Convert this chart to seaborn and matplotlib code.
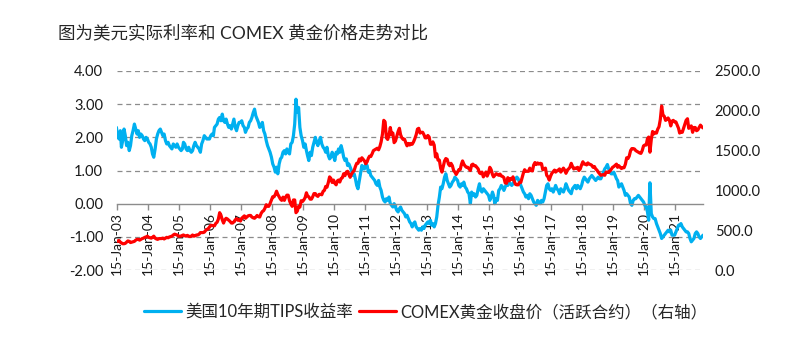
import numpy as np
import pandas as pd
import matplotlib
matplotlib.use("Agg")
import matplotlib.pyplot as plt
import matplotlib.dates as mdates
from matplotlib.ticker import FuncFormatter, FixedLocator
import seaborn as sns

# ---------------- data (twice a month: 8th and 23rd) ----------------
tips_2003 = [2.30, 2.05, 1.95, 2.20, 1.70, 1.90, 2.25, 2.05, 1.75, 1.85, 1.60, 1.75,
             2.05, 2.20, 2.40, 2.25, 2.10, 2.20, 2.00, 2.10, 2.05, 1.95, 1.90, 2.00]
tips_2004 = [1.95, 1.85, 1.80, 1.70, 1.50, 1.40, 1.65, 1.95, 2.10, 2.20, 2.25, 2.15,
             2.05, 2.10, 1.90, 1.80, 1.85, 1.75, 1.70, 1.65, 1.80, 1.75, 1.70, 1.80]
tips_2005 = [1.70, 1.65, 1.60, 1.65, 1.85, 1.80, 1.65, 1.60, 1.70, 1.60, 1.55, 1.60,
             1.75, 1.85, 1.75, 1.70, 1.65, 1.55, 1.80, 1.90, 2.05, 2.00, 1.95, 1.95]
tips_2006 = [1.95, 2.05, 2.10, 2.05, 2.30, 2.35, 2.40, 2.55, 2.60, 2.50, 2.70, 2.50,
             2.45, 2.55, 2.40, 2.30, 2.35, 2.25, 2.40, 2.55, 2.30, 2.20, 2.35, 2.45]
tips_2007 = [2.45, 2.50, 2.35, 2.30, 2.15, 2.25, 2.30, 2.45, 2.50, 2.60, 2.75, 2.85,
             2.65, 2.55, 2.45, 2.30, 2.35, 2.45, 2.20, 2.10, 1.90, 1.75, 1.65, 1.55]
tips_2008 = [1.40, 1.20, 1.10, 0.95, 1.10, 0.90, 1.20, 1.35, 1.40, 1.55, 1.60, 1.50,
             1.65, 1.55, 1.50, 1.80, 1.85, 2.05, 2.40, 3.15, 2.75, 2.90, 2.30, 2.05]
tips_2009 = [1.90, 1.70, 1.80, 1.60, 1.45, 1.30, 1.55, 1.45, 1.70, 1.85, 2.00, 1.85,
             1.75, 1.90, 2.00, 1.80, 1.70, 1.65, 1.55, 1.70, 1.45, 1.35, 1.40, 1.55]
tips_2010 = [1.45, 1.30, 1.55, 1.50, 1.65, 1.55, 1.75, 1.60, 1.40, 1.30, 1.35, 1.15,
             1.20, 1.10, 1.00, 0.85, 0.90, 0.75, 0.55, 0.45, 0.70, 0.95, 1.15, 1.05]
tips_2011 = [1.05, 1.20, 1.15, 0.95, 1.00, 0.85, 0.80, 0.75, 0.70, 0.60, 0.55, 0.70,
             0.50, 0.40, 0.20, 0.10, 0.05, 0.15, 0.10, 0.20, 0.00, -0.05, -0.10, 0.00]
tips_2012 = [-0.10, -0.20, -0.25, -0.15, -0.10, -0.20, -0.25, -0.30, -0.40, -0.35, -0.45, -0.55,
             -0.60, -0.70, -0.60, -0.55, -0.70, -0.75, -0.80, -0.75, -0.80, -0.70, -0.75, -0.65]
tips_2013 = [-0.60, -0.55, -0.60, -0.50, -0.65, -0.60, -0.70, -0.60, -0.40, -0.05, 0.20, 0.50,
             0.45, 0.60, 0.80, 0.90, 0.70, 0.60, 0.50, 0.55, 0.65, 0.70, 0.80, 0.75]
tips_2014 = [0.70, 0.55, 0.50, 0.60, 0.55, 0.65, 0.50, 0.45, 0.35, 0.30, 0.00, 0.35,
             0.25, 0.30, 0.20, 0.25, 0.45, 0.60, 0.40, 0.35, 0.45, 0.40, 0.35, 0.30]
tips_2015 = [0.25, 0.10, 0.20, 0.35, 0.25, 0.00, 0.15, 0.10, 0.40, 0.45, 0.55, 0.50,
             0.40, 0.50, 0.60, 0.55, 0.65, 0.60, 0.55, 0.60, 0.70, 0.75, 0.80, 0.75]
tips_2016 = [0.65, 0.55, 0.45, 0.35, 0.30, 0.20, 0.25, 0.15, 0.30, 0.25, 0.15, 0.05,
             0.00, -0.05, 0.10, 0.05, 0.00, 0.10, 0.05, 0.15, 0.35, 0.55, 0.60, 0.45]
tips_2017 = [0.40, 0.45, 0.35, 0.45, 0.55, 0.45, 0.40, 0.30, 0.45, 0.40, 0.35, 0.45,
             0.60, 0.50, 0.40, 0.35, 0.30, 0.45, 0.50, 0.55, 0.45, 0.55, 0.50, 0.45]
tips_2018 = [0.55, 0.70, 0.80, 0.75, 0.70, 0.65, 0.75, 0.80, 0.85, 0.80, 0.75, 0.70,
             0.75, 0.80, 0.75, 0.75, 0.85, 0.95, 1.05, 1.10, 1.18, 1.05, 0.95, 0.90]
tips_2019 = [0.90, 0.95, 0.85, 0.75, 0.70, 0.50, 0.55, 0.60, 0.50, 0.40, 0.25, 0.30,
             0.25, 0.20, 0.00, -0.05, 0.10, 0.15, 0.15, 0.20, 0.25, 0.20, 0.15, 0.10]
tips_2020 = [0.05, -0.05, -0.10, -0.25, -0.50, 0.63, -0.30, -0.40, -0.45, -0.45, -0.60, -0.70,
             -0.80, -0.90, -1.05, -1.00, -0.95, -0.90, -0.85, -0.80, -0.85, -0.80, -0.95, -0.95]
tips_2021 = [-0.95, -0.85, -0.75, -0.65, -0.65, -0.60, -0.70, -0.75, -0.80, -0.85, -0.85, -0.90,
             -1.05, -1.15, -1.10, -1.05, -0.90, -0.85, -0.90, -1.00, -1.05, -1.00, -0.95]

gold_2003 = [355, 365, 370, 350, 340, 330, 330, 335, 350, 365, 360, 345,
             350, 355, 360, 375, 385, 385, 375, 385, 395, 400, 410, 415]
gold_2004 = [425, 410, 405, 400, 410, 425, 400, 390, 385, 395, 395, 395,
             400, 390, 400, 410, 405, 415, 420, 425, 440, 450, 445, 440]
gold_2005 = [425, 425, 425, 435, 440, 430, 425, 435, 425, 420, 425, 440,
             425, 430, 440, 440, 450, 470, 470, 470, 475, 495, 510, 515]
gold_2006 = [540, 560, 560, 555, 555, 585, 600, 640, 720, 690, 630, 590,
             630, 650, 640, 625, 610, 590, 590, 605, 630, 645, 625, 635]
gold_2007 = [615, 650, 665, 680, 650, 665, 680, 685, 685, 665, 655, 650,
             665, 685, 670, 665, 710, 735, 745, 775, 820, 800, 800, 835]
gold_2008 = [880, 920, 920, 950, 990, 950, 920, 890, 875, 915, 875, 915,
             940, 940, 870, 830, 800, 880, 880, 720, 740, 800, 790, 870]
gold_2009 = [860, 880, 910, 970, 930, 920, 890, 890, 920, 960, 960, 935,
             925, 950, 950, 945, 990, 1000, 1050, 1040, 1100, 1170, 1150, 1100]
gold_2010 = [1130, 1090, 1070, 1120, 1130, 1105, 1150, 1160, 1210, 1185, 1230, 1240,
             1200, 1165, 1205, 1230, 1250, 1300, 1340, 1340, 1395, 1370, 1410, 1390]
gold_2011 = [1370, 1335, 1360, 1405, 1430, 1425, 1460, 1500, 1510, 1520, 1530, 1510,
             1550, 1610, 1710, 1880, 1860, 1660, 1640, 1690, 1790, 1700, 1720, 1600]
gold_2012 = [1620, 1680, 1740, 1780, 1700, 1660, 1640, 1645, 1600, 1560, 1590, 1570,
             1590, 1580, 1610, 1650, 1700, 1770, 1780, 1720, 1730, 1730, 1700, 1660]
gold_2013 = [1660, 1690, 1670, 1580, 1580, 1610, 1570, 1420, 1460, 1380, 1380, 1280,
             1230, 1300, 1370, 1400, 1390, 1330, 1310, 1340, 1310, 1250, 1230, 1200]
gold_2014 = [1230, 1260, 1260, 1330, 1370, 1330, 1305, 1290, 1290, 1270, 1250, 1320,
             1330, 1310, 1310, 1290, 1270, 1220, 1210, 1230, 1170, 1200, 1230, 1180]
gold_2015 = [1220, 1290, 1260, 1200, 1170, 1190, 1210, 1200, 1190, 1205, 1180, 1175,
             1160, 1095, 1090, 1160, 1120, 1150, 1140, 1170, 1110, 1075, 1070, 1070]
gold_2016 = [1100, 1100, 1160, 1220, 1260, 1240, 1240, 1240, 1280, 1250, 1245, 1320,
             1350, 1325, 1345, 1330, 1340, 1335, 1260, 1270, 1280, 1190, 1170, 1130]
gold_2017 = [1180, 1215, 1235, 1255, 1230, 1245, 1255, 1270, 1230, 1255, 1280, 1255,
             1215, 1255, 1270, 1290, 1340, 1300, 1270, 1280, 1275, 1290, 1250, 1270]
gold_2018 = [1320, 1360, 1330, 1330, 1320, 1345, 1330, 1325, 1315, 1290, 1300, 1270,
             1255, 1230, 1210, 1190, 1195, 1200, 1190, 1230, 1230, 1225, 1245, 1265]
gold_2019 = [1290, 1300, 1315, 1330, 1290, 1310, 1290, 1275, 1285, 1285, 1330, 1410,
             1400, 1430, 1500, 1525, 1525, 1520, 1500, 1490, 1480, 1470, 1465, 1500]
gold_2020 = [1560, 1570, 1570, 1650, 1670, 1480, 1640, 1740, 1710, 1730, 1720, 1770,
             1800, 1890, 2060, 1950, 1930, 1880, 1890, 1910, 1880, 1810, 1870, 1880]
gold_2021 = [1860, 1860, 1820, 1780, 1720, 1740, 1730, 1780, 1830, 1880, 1900, 1780,
             1800, 1810, 1730, 1790, 1790, 1750, 1760, 1790, 1820, 1800, 1785]

tips = sum([tips_2003, tips_2004, tips_2005, tips_2006, tips_2007, tips_2008, tips_2009,
            tips_2010, tips_2011, tips_2012, tips_2013, tips_2014, tips_2015, tips_2016,
            tips_2017, tips_2018, tips_2019, tips_2020, tips_2021], [])
gold = sum([gold_2003, gold_2004, gold_2005, gold_2006, gold_2007, gold_2008, gold_2009,
            gold_2010, gold_2011, gold_2012, gold_2013, gold_2014, gold_2015, gold_2016,
            gold_2017, gold_2018, gold_2019, gold_2020, gold_2021], [])

months = pd.date_range("2003-01-01", periods=(len(tips) + 1) // 2, freq="MS")
dates = sorted(list(months + pd.Timedelta(days=7)) + list(months + pd.Timedelta(days=22)))[:len(tips)]
dates = pd.DatetimeIndex(dates)
tick_years = list(range(2003, 2022))

title = "图为美元实际利率和 COMEX 黄金价格走势对比"
label_tips = "美国10年期TIPS收益率"
label_gold = "COMEX黄金收盘价（活跃合约）（右轴）"
left_ticks = [-2, -1, 0, 1, 2, 3, 4]
right_ticks = [0, 500, 1000, 1500, 2000, 2500]

df = pd.DataFrame({"date": dates, "tips": tips, "gold": gold})

# ---------------- style ----------------
sns.set_theme(style="white")
fam = ["Lato", "Noto Sans CJK SC", "DejaVu Sans"]
plt.rcParams["font.family"] = fam
plt.rcParams["axes.unicode_minus"] = False

BLUE = "#00B0F0"
RED = "#FF0000"
GRID = "#8c8c8c"

fig = plt.figure(figsize=(8.05, 3.5), dpi=100)
ax = fig.add_axes([117 / 805, 1 - 270 / 350, (703 - 117) / 805, (270 - 71) / 350])
ax2 = ax.twinx()

sns.lineplot(data=df, x="date", y="tips", ax=ax, color=BLUE, linewidth=2.3,
             label=label_tips, legend=False)
sns.lineplot(data=df, x="date", y="gold", ax=ax2, color=RED, linewidth=2.3,
             label=label_gold, legend=False)

ax.set_xlim(pd.Timestamp("2003-01-15"), dates[-1])
ax.set_ylim(-2, 4)
ax2.set_ylim(0, 2500)

ax.yaxis.set_major_locator(FixedLocator(left_ticks))
ax.yaxis.set_major_formatter(FuncFormatter(lambda v, p: f"{v:.2f}"))
ax2.yaxis.set_major_locator(FixedLocator(right_ticks))
ax2.yaxis.set_major_formatter(FuncFormatter(lambda v, p: f"{v:.1f}"))

xt = [pd.Timestamp(f"{y}-01-15") for y in tick_years]
ax.set_xticks(xt)
ax.xaxis.set_major_formatter(mdates.DateFormatter("%d-%b-%y"))

for a in (ax, ax2):
    for s in ("top", "left", "right"):
        a.spines[s].set_visible(False)
    a.set_xlabel("")
    a.set_ylabel("")
ax2.spines["bottom"].set_visible(False)
ax.spines["bottom"].set_position(("data", 0))
ax.spines["bottom"].set_color(GRID)
ax.spines["bottom"].set_linewidth(1.0)

for v in left_ticks:
    if v != 0:
        ax.axhline(v, color=GRID, lw=0.9, ls=(0, (4, 3)), zorder=0)

ax.tick_params(axis="x", direction="out", length=4, width=1, color=GRID,
               labelsize=10, labelrotation=90, pad=2, bottom=True)
ax.tick_params(axis="y", length=0, labelsize=10.5, pad=10, labelcolor="#1a1a1a")
ax2.tick_params(axis="y", length=0, labelsize=10.5, pad=8.5, labelcolor="#1a1a1a")
for lab in ax.get_xticklabels():
    lab.set_color("#1a1a1a")
    lab.set_va("top")

fig.text(58 / 805, 1 - 33 / 350, title, ha="left", va="center", fontsize=12.6,
         color="#262626", family=["Lato", "Noto Sans CJK SC"])

h1, l1 = ax.get_legend_handles_labels()
h2, l2 = ax2.get_legend_handles_labels()
fig.legend(h1 + h2, l1 + l2, loc="center", bbox_to_anchor=(0.529, 1 - 312 / 350),
           ncol=2, frameon=False, handlelength=2.25, handletextpad=0.25,
           columnspacing=0.35, prop={"family": fam, "size": 11.9})

fig.savefig("out.png", dpi=100)
